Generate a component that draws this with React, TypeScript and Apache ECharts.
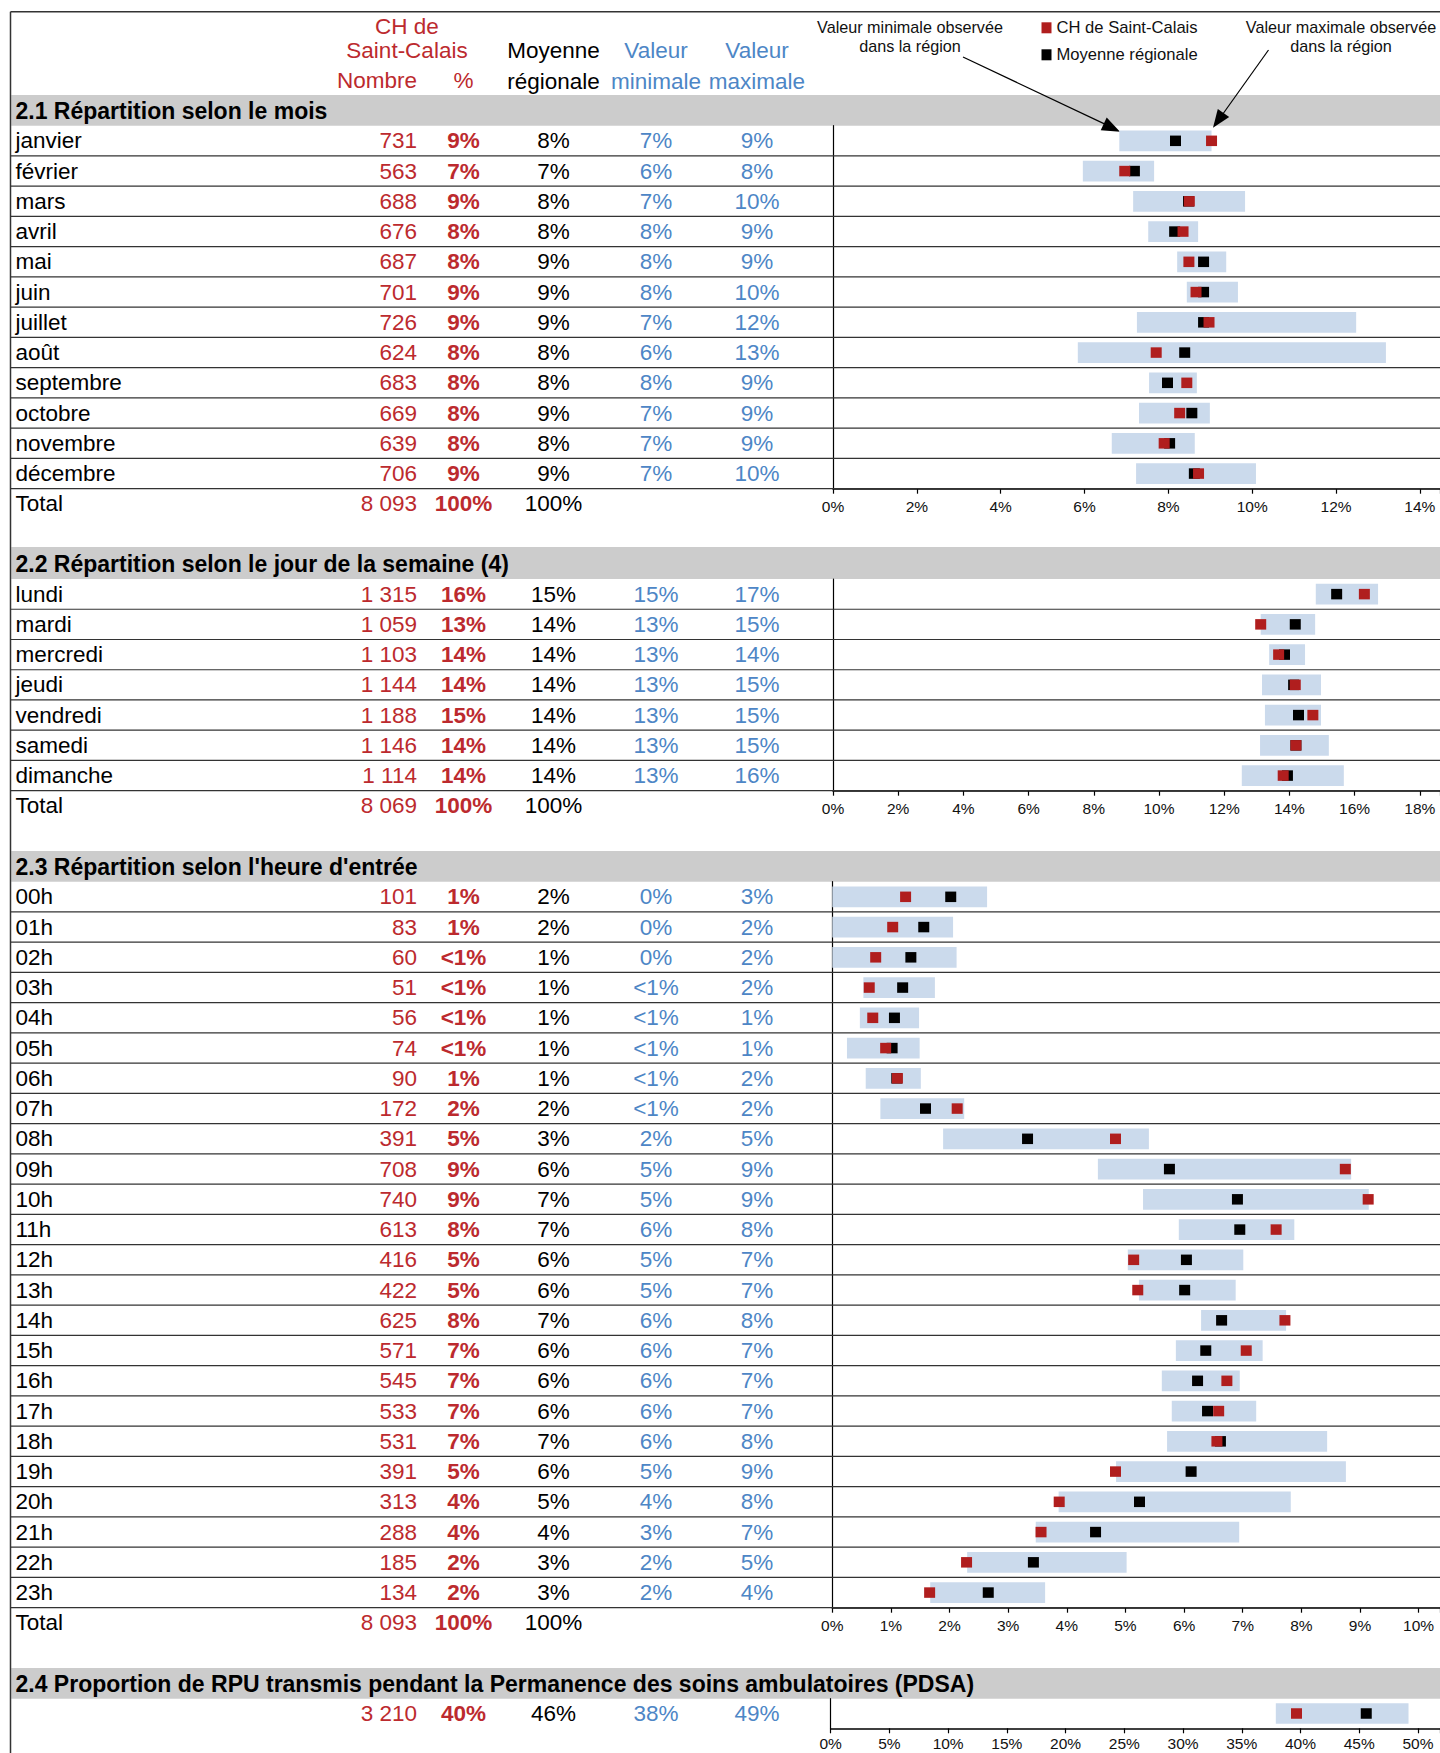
import React, { useEffect, useRef } from 'react';
import * as echarts from 'echarts';

// ---------------- DATA ----------------
// 2.1 Répartition selon le mois
const monthNames = ['janvier', 'février', 'mars', 'avril', 'mai', 'juin', 'juillet', 'août', 'septembre', 'octobre', 'novembre', 'décembre'];
const monthCounts = ['731', '563', '688', '676', '687', '701', '726', '624', '683', '669', '639', '706'];
const monthPctLabels = ['9%', '7%', '9%', '8%', '8%', '9%', '9%', '8%', '8%', '8%', '8%', '9%'];
const monthAvgLabels = ['8%', '7%', '8%', '8%', '9%', '9%', '9%', '8%', '8%', '9%', '8%', '9%'];
const monthMinLabels = ['7%', '6%', '7%', '8%', '8%', '8%', '7%', '6%', '8%', '7%', '7%', '7%'];
const monthMaxLabels = ['9%', '8%', '10%', '9%', '9%', '10%', '12%', '13%', '9%', '9%', '9%', '10%'];
const monthCH = [9.03, 6.96, 8.5, 8.35, 8.49, 8.66, 8.97, 7.71, 8.44, 8.27, 7.9, 8.72];
const monthAvg = [8.17, 7.19, 8.48, 8.15, 8.84, 8.84, 8.84, 8.39, 7.98, 8.56, 8.03, 8.62];
const monthMin = [6.83, 5.96, 7.16, 7.52, 8.21, 8.44, 7.25, 5.84, 7.54, 7.3, 6.65, 7.23];
const monthMax = [9.03, 7.66, 9.83, 8.71, 9.38, 9.66, 12.48, 13.19, 8.68, 8.99, 8.63, 10.09];

// 2.2 Répartition selon le jour de la semaine
const dayNames = ['lundi', 'mardi', 'mercredi', 'jeudi', 'vendredi', 'samedi', 'dimanche'];
const dayCounts = ['1 315', '1 059', '1 103', '1 144', '1 188', '1 146', '1 114'];
const dayPctLabels = ['16%', '13%', '14%', '14%', '15%', '14%', '14%'];
const dayAvgLabels = ['15%', '14%', '14%', '14%', '14%', '14%', '14%'];
const dayMinLabels = ['15%', '13%', '13%', '13%', '13%', '13%', '13%'];
const dayMaxLabels = ['17%', '15%', '14%', '15%', '15%', '15%', '16%'];
const dayCH = [16.3, 13.12, 13.67, 14.18, 14.72, 14.2, 13.81];
const dayAvg = [15.45, 14.18, 13.85, 14.13, 14.28, 14.2, 13.94];
const dayMin = [14.81, 13.12, 13.38, 13.16, 13.25, 13.1, 12.54];
const dayMax = [16.72, 14.79, 14.48, 14.97, 14.97, 15.21, 15.67];

// 2.3 Répartition selon l'heure d'entrée
const hourNames = ['00h', '01h', '02h', '03h', '04h', '05h', '06h', '07h', '08h', '09h', '10h', '11h', '12h', '13h', '14h', '15h', '16h', '17h', '18h', '19h', '20h', '21h', '22h', '23h'];
const hourCounts = ['101', '83', '60', '51', '56', '74', '90', '172', '391', '708', '740', '613', '416', '422', '625', '571', '545', '533', '531', '391', '313', '288', '185', '134'];
const hourPctLabels = ['1%', '1%', '<1%', '<1%', '<1%', '<1%', '1%', '2%', '5%', '9%', '9%', '8%', '5%', '5%', '8%', '7%', '7%', '7%', '7%', '5%', '4%', '4%', '2%', '2%'];
const hourAvgLabels = ['2%', '2%', '1%', '1%', '1%', '1%', '1%', '2%', '3%', '6%', '7%', '7%', '6%', '6%', '7%', '6%', '6%', '6%', '7%', '6%', '5%', '4%', '3%', '3%'];
const hourMinLabels = ['0%', '0%', '0%', '<1%', '<1%', '<1%', '<1%', '<1%', '2%', '5%', '5%', '6%', '5%', '5%', '6%', '6%', '6%', '6%', '6%', '5%', '4%', '3%', '2%', '2%'];
const hourMaxLabels = ['3%', '2%', '2%', '2%', '1%', '1%', '2%', '2%', '5%', '9%', '9%', '8%', '7%', '7%', '8%', '7%', '7%', '7%', '8%', '9%', '8%', '7%', '5%', '4%'];
const hourCH = [1.25, 1.03, 0.74, 0.63, 0.69, 0.91, 1.11, 2.13, 4.83, 8.75, 9.14, 7.57, 5.14, 5.21, 7.72, 7.06, 6.73, 6.59, 6.56, 4.83, 3.87, 3.56, 2.29, 1.66];
const hourAvg = [2.02, 1.56, 1.34, 1.2, 1.06, 1.02, 1.1, 1.59, 3.33, 5.75, 6.91, 6.95, 6.04, 6.01, 6.64, 6.37, 6.23, 6.4, 6.62, 6.12, 5.24, 4.49, 3.43, 2.66];
const hourMin = [0, 0, 0, 0.53, 0.47, 0.25, 0.57, 0.82, 1.89, 4.53, 5.3, 5.91, 5.04, 5.23, 6.29, 5.86, 5.62, 5.79, 5.71, 4.84, 3.86, 3.47, 2.3, 1.67];
const hourMax = [2.64, 2.06, 2.12, 1.75, 1.48, 1.49, 1.51, 2.25, 5.4, 8.85, 9.15, 7.88, 7.01, 6.88, 7.74, 7.34, 6.95, 7.23, 8.44, 8.76, 7.82, 6.94, 5.02, 3.63];

// 2.4 PDSA
const pdsaNames = [''];
const pdsaCounts = ['3 210'];
const pdsaPctLabels = ['40%'];
const pdsaAvgLabels = ['46%'];
const pdsaMinLabels = ['38%'];
const pdsaMaxLabels = ['49%'];
const pdsaCH = [39.66];
const pdsaAvg = [45.6];
const pdsaMin = [37.9];
const pdsaMax = [49.2];

const sectionTitles = [
  '2.1 Répartition selon le mois',
  '2.2 Répartition selon le jour de la semaine (4)',
  "2.3 Répartition selon l'heure d'entrée",
  '2.4 Proportion de RPU transmis pendant la Permanence des soins ambulatoires (PDSA)',
];
const totalCounts = ['8 093', '8 069', '8 093'];
const totalPct = ['100%', '100%', '100%'];
const totalAvg = ['100%', '100%', '100%'];

// ---------------- STYLE / LAYOUT ----------------
const W = 1440;
const H = 1753;
const FONT = '"Liberation Sans", Arial, Helvetica, sans-serif';
const FS = 22.5;
const RED_TXT = '#BC2A2E';
const RED_MK = '#B01E1E';
const BLUE_TXT = '#4D86C6';
const BAR = '#CBDAEC';
const BAND = '#CCCCCC';
const LINE = '#333333';
const BORDER_X = 10.5;
const TOP_Y = 11.7;
const COL = { name: 15.5, count: 417, pct: 463.5, avg: 553.5, min: 656, max: 757 };

const layout = [
  { left: 833, top: 125.7, height: 363, max: 14.48, interval: 2, band: [95, 125.7], labelMargin: 10 },
  { left: 833, top: 579, height: 211.7, max: 18.62, interval: 2, band: [547, 579], labelMargin: 10 },
  { left: 832.3, top: 881.7, height: 726, max: 10.365, interval: 1, band: [851, 881.7], labelMargin: 10 },
  { left: 830.7, top: 1698.7, height: 29.6, max: 51.88, interval: 5, band: [1668, 1698.7], labelMargin: 7 },
];

const sections = [
  { names: monthNames, counts: monthCounts, pctL: monthPctLabels, avgL: monthAvgLabels, minL: monthMinLabels, maxL: monthMaxLabels, ch: monthCH, avg: monthAvg, min: monthMin, max: monthMax, sep: true },
  { names: dayNames, counts: dayCounts, pctL: dayPctLabels, avgL: dayAvgLabels, minL: dayMinLabels, maxL: dayMaxLabels, ch: dayCH, avg: dayAvg, min: dayMin, max: dayMax, sep: true },
  { names: hourNames, counts: hourCounts, pctL: hourPctLabels, avgL: hourAvgLabels, minL: hourMinLabels, maxL: hourMaxLabels, ch: hourCH, avg: hourAvg, min: hourMin, max: hourMax, sep: true },
  { names: pdsaNames, counts: pdsaCounts, pctL: pdsaPctLabels, avgL: pdsaAvgLabels, minL: pdsaMinLabels, maxL: pdsaMaxLabels, ch: pdsaCH, avg: pdsaAvg, min: pdsaMin, max: pdsaMax, sep: false },
];

function txt(x: number, y: number, text: string, fill: string, align: string, weight: string = 'normal', size: number = FS): any {
  return {
    type: 'text',
    x,
    y,
    silent: true,
    style: {
      text,
      fill,
      fontSize: size,
      fontFamily: FONT,
      fontWeight: weight,
      align,
      verticalAlign: 'middle',
      textAlign: align,
      textVerticalAlign: 'middle',
    },
  };
}

function buildOption(): any {
  const grid = layout.map((l) => ({ left: l.left, top: l.top, width: W - l.left, height: l.height, outerBoundsMode: 'none' }));

  const xAxis = layout.map((l, i) => ({
    type: 'value',
    gridIndex: i,
    min: 0,
    max: l.max,
    interval: l.interval,
    axisLine: { show: true, onZero: false, lineStyle: { color: '#000', width: 1.6 } },
    axisTick: { show: true, length: 5, lineStyle: { color: '#000', width: 1.2 } },
    splitLine: { show: false },
    axisLabel: {
      margin: l.labelMargin,
      fontSize: 15.5,
      color: '#111',
      fontFamily: FONT,
      formatter: (v: number) => {
        const k = v / l.interval;
        return Math.abs(k - Math.round(k)) < 1e-6 ? `${Math.round(v)}%` : '';
      },
    },
  }));

  const yAxis = sections.map((s, i) => ({
    type: 'category',
    gridIndex: i,
    data: s.names.map((n, j) => n || `row${j}`),
    inverse: true,
    axisLine: { show: true, lineStyle: { color: '#000', width: 1.2 } },
    axisTick: { show: false },
    axisLabel: { show: false },
    splitLine: { show: false },
  }));

  const series: any[] = [];
  sections.forEach((s, i) => {
    series.push({
      type: 'custom',
      name: `table${i}`,
      xAxisIndex: i,
      yAxisIndex: i,
      silent: true,
      z: 1,
      encode: { x: 0, y: 1 },
      data: s.names.map((_, j) => [0, j]),
      renderItem: (_p: any, api: any) => {
        const idx = api.value(1);
        const y = api.coord([0, idx])[1];
        const h = api.size([0, 1])[1];
        const children: any[] = [
          txt(COL.name, y, s.names[idx], '#000', 'left'),
          txt(COL.count, y, s.counts[idx], RED_TXT, 'right'),
          txt(COL.pct, y, s.pctL[idx], RED_TXT, 'center', 'bold'),
          txt(COL.avg, y, s.avgL[idx], '#000', 'center'),
          txt(COL.min, y, s.minL[idx], BLUE_TXT, 'center'),
          txt(COL.max, y, s.maxL[idx], BLUE_TXT, 'center'),
        ];
        if (s.sep) {
          children.push({
            type: 'line',
            silent: true,
            shape: { x1: BORDER_X, y1: y + h / 2, x2: W, y2: y + h / 2 },
            style: { stroke: LINE, lineWidth: 1.2 },
          });
        }
        return { type: 'group', children };
      },
    });
    series.push({
      type: 'custom',
      name: `range${i}`,
      xAxisIndex: i,
      yAxisIndex: i,
      silent: true,
      z: 2,
      encode: { x: [0, 2], y: 1 },
      data: s.min.map((m, j) => [m, j, s.max[j]]),
      renderItem: (_p: any, api: any) => {
        const idx = api.value(1);
        const a = api.coord([api.value(0), idx]);
        const b = api.coord([api.value(2), idx]);
        return {
          type: 'rect',
          shape: { x: a[0], y: a[1] - 10.35, width: b[0] - a[0], height: 20.7 },
          style: { fill: BAR },
        };
      },
    });
    series.push({
      type: 'scatter',
      name: 'Moyenne régionale',
      xAxisIndex: i,
      yAxisIndex: i,
      symbol: 'rect',
      symbolSize: [11, 10.5],
      itemStyle: { color: '#000', opacity: 1 },
      z: 3,
      silent: true,
      data: s.avg.map((v, j) => [v, j]),
    });
    series.push({
      type: 'scatter',
      name: 'CH de Saint-Calais',
      xAxisIndex: i,
      yAxisIndex: i,
      symbol: 'rect',
      symbolSize: [11, 10.5],
      itemStyle: { color: RED_MK, opacity: 1 },
      z: 4,
      silent: true,
      data: s.ch.map((v, j) => [v, j]),
    });
  });

  const g: any[] = [];
  // frame
  g.push({ type: 'line', silent: true, shape: { x1: BORDER_X, y1: TOP_Y, x2: W, y2: TOP_Y }, style: { stroke: LINE, lineWidth: 1.5 } });
  g.push({ type: 'line', silent: true, shape: { x1: BORDER_X, y1: TOP_Y, x2: BORDER_X, y2: H }, style: { stroke: LINE, lineWidth: 1.5 } });
  // section bands + titles
  layout.forEach((l, i) => {
    g.push({ type: 'rect', silent: true, z: -1, shape: { x: BORDER_X + 0.75, y: l.band[0], width: W - BORDER_X, height: l.band[1] - l.band[0] }, style: { fill: BAND } });
    g.push(txt(COL.name, (l.band[0] + l.band[1]) / 2 + 0.5, sectionTitles[i], '#000', 'left', 'bold', 23));
  });
  // header
  g.push(txt(407, 26.7, 'CH de', RED_TXT, 'center'));
  g.push(txt(407, 50, 'Saint-Calais', RED_TXT, 'center'));
  g.push(txt(COL.count, 80.5, 'Nombre', RED_TXT, 'right'));
  g.push(txt(COL.pct, 80.5, '%', RED_TXT, 'center'));
  g.push(txt(COL.avg, 50.5, 'Moyenne', '#000', 'center'));
  g.push(txt(COL.avg, 81.5, 'régionale', '#000', 'center'));
  g.push(txt(COL.min, 50.5, 'Valeur', BLUE_TXT, 'center'));
  g.push(txt(COL.min, 81.5, 'minimale', BLUE_TXT, 'center'));
  g.push(txt(COL.max, 50.5, 'Valeur', BLUE_TXT, 'center'));
  g.push(txt(COL.max, 81.5, 'maximale', BLUE_TXT, 'center'));
  // totals
  totalCounts.forEach((c, i) => {
    const y = layout[i].top + layout[i].height + 14.5;
    g.push(txt(COL.name, y, 'Total', '#000', 'left'));
    g.push(txt(COL.count, y, c, RED_TXT, 'right'));
    g.push(txt(COL.pct, y, totalPct[i], RED_TXT, 'center', 'bold'));
    g.push(txt(COL.avg, y, totalAvg[i], '#000', 'center'));
  });
  // annotations
  g.push(txt(910, 26.7, 'Valeur minimale observée', '#111', 'center', 'normal', 16.2));
  g.push(txt(910, 46, 'dans la région', '#111', 'center', 'normal', 16.2));
  g.push(txt(1341, 26.7, 'Valeur maximale observée', '#111', 'center', 'normal', 16.2));
  g.push(txt(1341, 46, 'dans la région', '#111', 'center', 'normal', 16.2));
  // arrows
  g.push({ type: 'line', silent: true, shape: { x1: 963, y1: 57, x2: 1106, y2: 124.6 }, style: { stroke: '#000', lineWidth: 1.2 } });
  g.push({ type: 'polygon', silent: true, shape: { points: [[1120, 131.7], [1100.7, 130.3], [1106.7, 117.6]] }, style: { fill: '#000' } });
  g.push({ type: 'line', silent: true, shape: { x1: 1268.5, y1: 50, x2: 1222.5, y2: 114.5 }, style: { stroke: '#000', lineWidth: 1.2 } });
  g.push({ type: 'polygon', silent: true, shape: { points: [[1213, 127.7], [1217.8, 109], [1229.2, 117.1]] }, style: { fill: '#000' } });

  return {
    animation: false,
    backgroundColor: '#ffffff',
    textStyle: { fontFamily: FONT },
    legend: {
      data: [
        { name: 'CH de Saint-Calais', icon: 'rect' },
        { name: 'Moyenne régionale', icon: 'rect' },
      ],
      orient: 'vertical',
      left: 1041.5,
      top: 19.3,
      padding: 0,
      itemWidth: 10,
      itemHeight: 11,
      itemGap: 10,
      selectedMode: false,
      itemStyle: { opacity: 1 },
      textStyle: { fontSize: 16.6, color: '#111', fontFamily: FONT },
    },
    grid,
    xAxis,
    yAxis,
    series,
    graphic: { elements: g },
  };
}

export default function App() {
  const ref = useRef<HTMLDivElement>(null);
  useEffect(() => {
    document.body.style.margin = '0';
    if (!ref.current) return;
    const chart = echarts.init(ref.current, undefined, { renderer: 'svg' });
    chart.setOption(buildOption());
    return () => {
      chart.dispose();
    };
  }, []);
  return <div ref={ref} style={{ width: W, height: H, background: '#fff' }} />;
}
